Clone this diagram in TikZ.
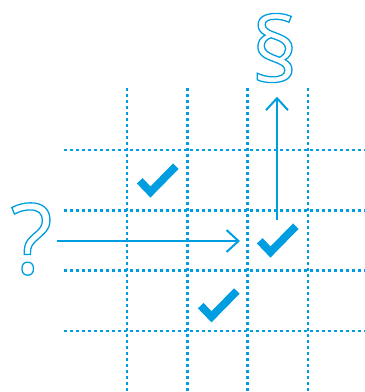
\documentclass[tikz,border=0pt]{standalone}
\usepackage{fontspec}
\setmainfont{Open Sans}
\usetikzlibrary{arrows.meta}
\definecolor{lblue}{RGB}{0,158,224}
\newcommand\outlined[2][1.3]{\special{pdf:literal direct 1 Tr #1 w}#2\special{pdf:literal direct 0 Tr}}
\begin{document}
\begin{tikzpicture}[x=1pt,y=-1pt,
  gridline/.style={lblue, line width=2.6pt, dash pattern=on 2.6pt off 3.4pt},
  arr/.style={lblue, line width=2pt, -{Straight Barb[length=12pt,width=22pt,line width=2pt]}},
  tick/.style={lblue, line width=7.8pt, line join=miter, line cap=butt},
  glyph/.style={inner sep=0pt, text=lblue},
  checkmark/.pic={\draw[tick] (-10.8,-11.2) -- (0,0) -- (25.3,-25.8);}]
\useasboundingbox (0,0) rectangle (365,392);
\foreach \x in {127,187.3,247.7,308} \draw[gridline] (\x,88) -- (\x,392);
\foreach \y in {150,210.3,270.7,331} \draw[gridline] (64,\y) -- (365,\y);
\node[glyph] (para) at (275,48) {\fontsize{90}{90}\selectfont\outlined{§}};
\node[glyph] (qm) at (31.5,239) {\fontsize{98}{98}\selectfont\outlined{?}};
\coordinate (c1) at (150.5,192);
\coordinate (c2) at (270.5,252);
\coordinate (c3) at (211.5,316.8);
\pic at (c1) {checkmark};
\pic at (c2) {checkmark};
\pic at (c3) {checkmark};
\coordinate (hs) at (57,241);
\coordinate (he) at (240,241);
\coordinate (vs) at (277,220);
\coordinate (ve) at (277,96.7);
\draw[arr] (hs) -- (he);
\draw[arr] (vs) -- (ve);
\end{tikzpicture}
\end{document}
